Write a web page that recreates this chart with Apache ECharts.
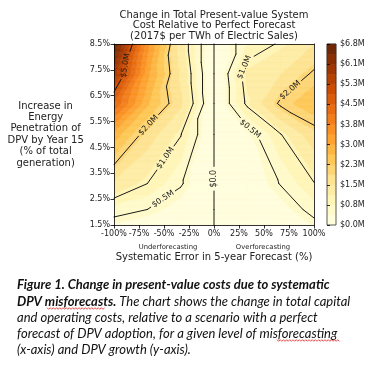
<!DOCTYPE html>
<html><head><meta charset="utf-8">
<script src="https://cdn.jsdelivr.net/npm/echarts@6/dist/echarts.min.js"></script>
<style>html,body{margin:0;padding:0;background:#fff}#c{width:391px;height:369px}</style>
</head><body><div id="c"></div>
<script>
// ---- data ----
const xValues = [-100, -66.7, -33.3, 0, 33.3, 66.7, 100];      // systematic error (%)
const yValues = [1.5, 2.1, 3.1, 5.0, 6.2, 7.35, 8.5];           // DPV growth (%)
const costAt1_5  = [0.344, 0.20, 0.10, 0, 0.05, 0.15, 0.40];     // $M
const costAt2_1  = [0.646, 0.50, 0.25, 0, 0.08, 0.26, 0.62];
const costAt3_1  = [1.45, 1.00, 0.54, 0, 0.15, 0.52, 0.98];
const costAt5_0  = [2.88, 1.75, 1.02, 0, 0.30, 0.98, 1.76];
const costAt6_2  = [4.50, 2.74, 1.60, 0, 1.085, 2.10, 2.56];
const costAt7_35 = [5.80, 3.17, 1.45, 0, 1.20, 1.50, 2.08];
const costAt8_5  = [6.80, 3.56, 1.30, 0, 0.76, 1.05, 1.50];
const costRows = [costAt1_5, costAt2_1, costAt3_1, costAt5_0, costAt6_2, costAt7_35, costAt8_5];
const contourLevels = [0, 0.5, 1, 2, 5];
const contourLabelText = ['$0.0', '$0.5M', '$1.0M', '$2.0M', '$5.0M'];
const xTickLabels = ['-100%', '-75%', '-50%', '-25%', '0%', '25%', '50%', '75%', '100%'];
const yTickLabels = ['1.5%', '2.5%', '3.5%', '4.5%', '5.5%', '6.5%', '7.5%', '8.5%'];
const colorbarTickLabels = ['$0.0M', '$0.8M', '$1.5M', '$2.3M', '$3.0M', '$3.8M', '$4.5M', '$5.3M', '$6.1M', '$6.8M'];
const colorMax = 6.8;
const bandCount = 18;

// label anchor hints (placement styling, not data)
const contourLabelAnchors = [
  {level: 5, x: -90, y: 7.68},
  {level: 2, x: -67, y: 5.41},
  {level: 1, x: -50, y: 4.13},
  {level: 0.5, x: -49, y: 2.39},
  {level: 0, x: 0, y: 3.29},
  {level: 1, x: 29.7, y: 7.61},
  {level: 2, x: 78, y: 6.64},
  {level: 0.5, x: 39.3, y: 5.37}
];

// ---- colour map (matplotlib YlOrBr) ----
const ylOrBrStops = [[255,255,229],[255,247,188],[254,227,145],[254,196,79],[254,153,41],[236,112,20],[204,76,2],[153,52,4],[102,37,6]];
function ylOrBr(t){
  t = Math.max(0, Math.min(1, t));
  const p = t * (ylOrBrStops.length - 1); const i = Math.min(ylOrBrStops.length - 2, Math.floor(p)); const f = p - i;
  const a = ylOrBrStops[i], b = ylOrBrStops[i+1];
  return 'rgb(' + [0,1,2].map(k => Math.round(a[k] + f*(b[k]-a[k]))).join(',') + ')';
}
const bandColors = [];
for (let k = 0; k < bandCount; k++) bandColors.push(ylOrBr((k + 0.5) / bandCount));
const bandStep = colorMax / bandCount;
function bandOf(v){ return Math.max(0, Math.min(bandCount - 1, Math.floor(v / bandStep + 1e-9))); }

function val(i, j){ return costRows[j][i]; }
function useAC(i, j){ return Math.abs(val(i,j) - val(i+1,j+1)) <= Math.abs(val(i+1,j) - val(i,j+1)); }
function cellValue(i, j, u, v){
  const a = val(i,j), b = val(i+1,j), c = val(i+1,j+1), d = val(i,j+1);
  if (useAC(i,j)) return v <= u ? a + u*(b-a) + v*(c-b) : a + u*(c-d) + v*(d-a);
  return u + v <= 1 ? a + u*(b-a) + v*(d-a) : c + (1-u)*(d-c) + (1-v)*(b-c);
}
function forEachTriangle(fn){
  for (let j = 0; j < yValues.length - 1; j++) for (let i = 0; i < xValues.length - 1; i++){
    const A = [xValues[i], yValues[j], val(i,j)], B = [xValues[i+1], yValues[j], val(i+1,j)];
    const C = [xValues[i+1], yValues[j+1], val(i+1,j+1)], D = [xValues[i], yValues[j+1], val(i,j+1)];
    if (useAC(i,j)) { fn([A,B,C]); fn([A,C,D]); } else { fn([A,B,D]); fn([B,C,D]); }
  }
}

const cells = [];
for (let j = 0; j < yValues.length - 1; j++) for (let i = 0; i < xValues.length - 1; i++)
  cells.push([(xValues[i] + xValues[i+1]) / 2, (yValues[j] + yValues[j+1]) / 2, i, j]);

function renderFill(params, api){
  const i = api.value(2), j = api.value(3);
  const pA = api.coord([xValues[i], yValues[j]]), pB = api.coord([xValues[i+1], yValues[j+1]]);
  const w = pB[0] - pA[0], h = pA[1] - pB[1];
  const nx = Math.max(2, Math.ceil(w / 1.2)), ny = Math.max(2, Math.ceil(h / 1.2));
  const children = [];
  for (let r = 0; r < ny; r++){
    const v = (r + 0.5) / ny;
    let runStart = 0, runBand = null;
    for (let s = 0; s <= nx; s++){
      let band = null;
      if (s < nx) band = bandOf(cellValue(i, j, (s + 0.5) / nx, v));
      if (s === nx || band !== runBand){
        if (runBand !== null){
          const xs = pA[0] + w*runStart/nx, xe = pA[0] + w*s/nx;
          const yt = pA[1] - h*(r+1)/ny, yb = pA[1] - h*r/ny;
          children.push({type:'rect', shape:{x:xs, y:yt, width:xe-xs, height:yb-yt},
            style:{fill:bandColors[runBand], stroke:bandColors[runBand], lineWidth:0.6}});
        }
        runStart = s; runBand = band;
      }
    }
  }
  return {type:'group', children};
}

function clipCircle(s, hole, out){
  const A = s[0], B = s[1];
  const dx = B[0]-A[0], dy = B[1]-A[1], fx = A[0]-hole.c[0], fy = A[1]-hole.c[1];
  const a = dx*dx + dy*dy, b = 2*(fx*dx + fy*dy), c = fx*fx + fy*fy - hole.r*hole.r;
  const disc = b*b - 4*a*c;
  if (a === 0 || disc <= 0){ out.push(s); return; }
  const sq = Math.sqrt(disc), t1 = (-b - sq)/(2*a), t2 = (-b + sq)/(2*a);
  if (t2 <= 0 || t1 >= 1){ out.push(s); return; }
  if (t1 > 0) out.push([A, [A[0]+t1*dx, A[1]+t1*dy]]);
  if (t2 < 1) out.push([[A[0]+t2*dx, A[1]+t2*dy], B]);
}

function renderContour(params, api){
  const k = api.value(2); const L = contourLevels[k];
  const segs = []; const seen = new Set();
  forEachTriangle(tri => {
    const pts = [];
    for (let e = 0; e < 3; e++){
      const p = tri[e], q = tri[(e+1)%3];
      if ((p[2] > L) !== (q[2] > L)){
        const t = (L - p[2]) / (q[2] - p[2]);
        pts.push([p[0] + t*(q[0]-p[0]), p[1] + t*(q[1]-p[1])]);
      }
    }
    if (pts.length !== 2) return;
    const A = api.coord(pts[0]), B = api.coord(pts[1]);
    if (Math.hypot(A[0]-B[0], A[1]-B[1]) < 0.05) return;
    const key = [A, B].map(P => P[0].toFixed(1) + ',' + P[1].toFixed(1)).sort().join('|');
    if (seen.has(key)) return; seen.add(key);
    segs.push([A, B]);
  });
  const children = []; const holes = [];
  contourLabelAnchors.filter(a => a.level === L).forEach(lb => {
    const P = api.coord([lb.x, lb.y]);
    let best = null, bd = Infinity;
    segs.forEach(s => {
      const A = s[0], B = s[1], dx = B[0]-A[0], dy = B[1]-A[1];
      let t = ((P[0]-A[0])*dx + (P[1]-A[1])*dy) / (dx*dx + dy*dy);
      t = Math.max(0, Math.min(1, t));
      const Q = [A[0]+t*dx, A[1]+t*dy], d = Math.hypot(Q[0]-P[0], Q[1]-P[1]);
      if (d < bd){ bd = d; best = {Q, dx, dy}; }
    });
    if (!best) return;
    let ang = Math.atan2(-best.dy, best.dx);
    if (ang > Math.PI/2 + 1e-6) ang -= Math.PI;
    if (ang <= -Math.PI/2 + 1e-6) ang += Math.PI;
    const text = contourLabelText[k];
    children.push({type:'text', x:best.Q[0], y:best.Q[1], rotation:ang, z2:10,
      style:{text, fontSize:8, fontFamily:'DejaVu Sans', fill:'#222', align:'center', verticalAlign:'middle'}});
    holes.push({c:best.Q, r:text.length*2.45 + 2.5});
  });
  let pieces = segs;
  holes.forEach(hole => { const out = []; pieces.forEach(s => clipCircle(s, hole, out)); pieces = out; });
  pieces.forEach(s => children.push({type:'line', shape:{x1:s[0][0], y1:s[0][1], x2:s[1][0], y2:s[1][1]},
    style:{stroke:'#1a1a1a', lineWidth:1, lineCap:'round'}}));
  return {type:'group', children};
}

const cbTickSpan = colorbarTickLabels.length - 1;
const cbBands = bandColors.map((c, k) => [0.5, (k + 0.5) * cbTickSpan / bandCount, k]);
function renderBand(params, api){
  const k = api.value(2);
  const p0 = api.coord([0, k * cbTickSpan / bandCount]), p1 = api.coord([1, (k + 1) * cbTickSpan / bandCount]);
  return {type:'rect', shape:{x:p0[0], y:p1[1], width:p1[0]-p0[0], height:p0[1]-p1[1]},
    style:{fill:bandColors[k], stroke:bandColors[k], lineWidth:0.5}};
}
function renderFrame(params, api){
  const p0 = api.coord([0, 0]), p1 = api.coord([1, cbTickSpan]);
  return {type:'rect', z2:5, shape:{x:p0[0], y:p1[1], width:p1[0]-p0[0], height:p0[1]-p1[1]},
    style:{fill:'none', stroke:'#333', lineWidth:0.8}};
}

// red spell-check squiggle under a word (decoration)
function squiggle(x0, x1, y){
  const pts = []; let up = true;
  for (let x = x0; x <= x1; x += 1.6){ pts.push([x, y + (up ? -0.8 : 0.8)]); up = !up; }
  return {type:'polyline', shape:{points:pts}, style:{stroke:'#e0201b', lineWidth:0.8, fill:null}};
}

const axisLineStyle = {show:true, onZero:false, lineStyle:{color:'#000', width:0.8}};
const tickStyle = {show:true, length:3.5, lineStyle:{color:'#000', width:0.8}};
const chart = echarts.init(document.getElementById('c'), null, {renderer:'canvas'});
const capFont = 'Lato';
const capSize = 13;
chart.setOption({
  animation: false,
  backgroundColor: '#fff',
  textStyle: {fontFamily: 'DejaVu Sans'},
  grid: [
    {left:114, top:44, width:200, height:181},
    {left:327, top:44, width:9, height:181}
  ],
  xAxis: [
    {gridIndex:0, type:'value', min:-100, max:100, interval:25, position:'bottom', z:5,
      axisLine:axisLineStyle, axisTick:tickStyle, splitLine:{show:false},
      axisLabel:{fontSize:8, color:'#222', margin:5, formatter: v => xTickLabels[Math.round((v + 100) / 25)]},
      name:'Systematic Error in 5-year Forecast (%)', nameLocation:'middle', nameGap:32,
      nameTextStyle:{fontSize:10, color:'#222', verticalAlign:'middle'}},
    {gridIndex:0, type:'value', min:-100, max:100, position:'top', z:5,
      axisLine:axisLineStyle, axisTick:{show:false}, axisLabel:{show:false}, splitLine:{show:false}},
    {gridIndex:1, type:'value', min:0, max:1, show:false}
  ],
  yAxis: [
    {gridIndex:0, type:'value', min:1.5, max:8.5, interval:1, z:5,
      axisLine:axisLineStyle, axisTick:tickStyle, splitLine:{show:false},
      axisLabel:{fontSize:8, color:'#222', margin:4, formatter: v => yTickLabels[Math.round(v - 1.5)]},
      name:'Increase in\nEnergy\nPenetration of\nDPV by Year 15\n(% of total\ngeneration)',
      nameLocation:'middle', nameRotate:0, nameGap:58,
      nameTextStyle:{fontSize:10, color:'#222', align:'center', verticalAlign:'middle', lineHeight:11.4}},
    {gridIndex:0, type:'value', min:1.5, max:8.5, position:'right', z:5,
      axisLine:axisLineStyle, axisTick:{show:false}, axisLabel:{show:false}, splitLine:{show:false}},
    {gridIndex:1, type:'value', min:0, max:cbTickSpan, interval:1, position:'right', z:5,
      axisLine:{show:false}, axisTick:{show:true, length:3, lineStyle:{color:'#000', width:0.8}},
      splitLine:{show:false},
      axisLabel:{fontSize:8, color:'#222', margin:4, formatter: v => colorbarTickLabels[Math.round(v)]}}
  ],
  series: [
    {type:'custom', xAxisIndex:0, yAxisIndex:0, data:cells, encode:{x:0, y:1}, renderItem:renderFill, silent:true, z:1, clip:true},
    {type:'custom', xAxisIndex:0, yAxisIndex:0, data:contourLevels.map((L, k) => [0, 5, k]), encode:{x:0, y:1}, renderItem:renderContour, silent:true, z:3},
    {type:'custom', xAxisIndex:2, yAxisIndex:2, data:cbBands, encode:{x:0, y:1}, renderItem:renderBand, silent:true, z:1},
    {type:'custom', xAxisIndex:2, yAxisIndex:2, data:[[0.5, 4.5]], encode:{x:0, y:1}, renderItem:renderFrame, silent:true, z:4}
  ],
  graphic: [
    {type:'text', x:214, y:15, style:{text:'Change in Total Present-value System', font:'10px "DejaVu Sans"', fill:'#222', align:'center', verticalAlign:'middle'}},
    {type:'text', x:214, y:25.5, style:{text:'Cost Relative to Perfect Forecast', font:'10px "DejaVu Sans"', fill:'#222', align:'center', verticalAlign:'middle'}},
    {type:'text', x:214, y:36, style:{text:'(2017$ per TWh of Electric Sales)', font:'10px "DejaVu Sans"', fill:'#222', align:'center', verticalAlign:'middle'}},
    {type:'text', x:168, y:247, style:{text:'Underforecasting', font:'6.8px "DejaVu Sans"', fill:'#222', align:'center', verticalAlign:'middle'}},
    {type:'text', x:263, y:247, style:{text:'Overforecasting', font:'6.8px "DejaVu Sans"', fill:'#222', align:'center', verticalAlign:'middle'}},
    {type:'text', x:17, y:285, style:{text:'Figure 1. Change in present-value costs due to systematic', font:'italic bold ' + capSize + 'px ' + capFont, fill:'#111', verticalAlign:'middle'}},
    {type:'text', x:17, y:301.5, style:{text:'{b|DPV misforecasts.}{r| The chart shows the change in total capital}', verticalAlign:'middle',
      rich:{b:{fontStyle:'italic', fontWeight:'bold', fontSize:capSize, fontFamily:capFont, fill:'#111'}, r:{fontStyle:'italic', fontSize:capSize, fontFamily:capFont, fill:'#111'}}}},
    {type:'text', x:17, y:317.5, style:{text:'and operating costs, relative to a scenario with a perfect', font:'italic ' + capSize + 'px ' + capFont, fill:'#111', verticalAlign:'middle'}},
    {type:'text', x:17, y:333.5, style:{text:'forecast of DPV adoption, for a given level of misforecasting', font:'italic ' + capSize + 'px ' + capFont, fill:'#111', verticalAlign:'middle'}},
    {type:'text', x:17, y:349.5, style:{text:'(x-axis) and DPV growth (y-axis).', font:'italic ' + capSize + 'px ' + capFont, fill:'#111', verticalAlign:'middle'}},
    squiggle(47, 105, 308.5),
    squiggle(277, 341, 340.5)
  ]
});
</script></body></html>
